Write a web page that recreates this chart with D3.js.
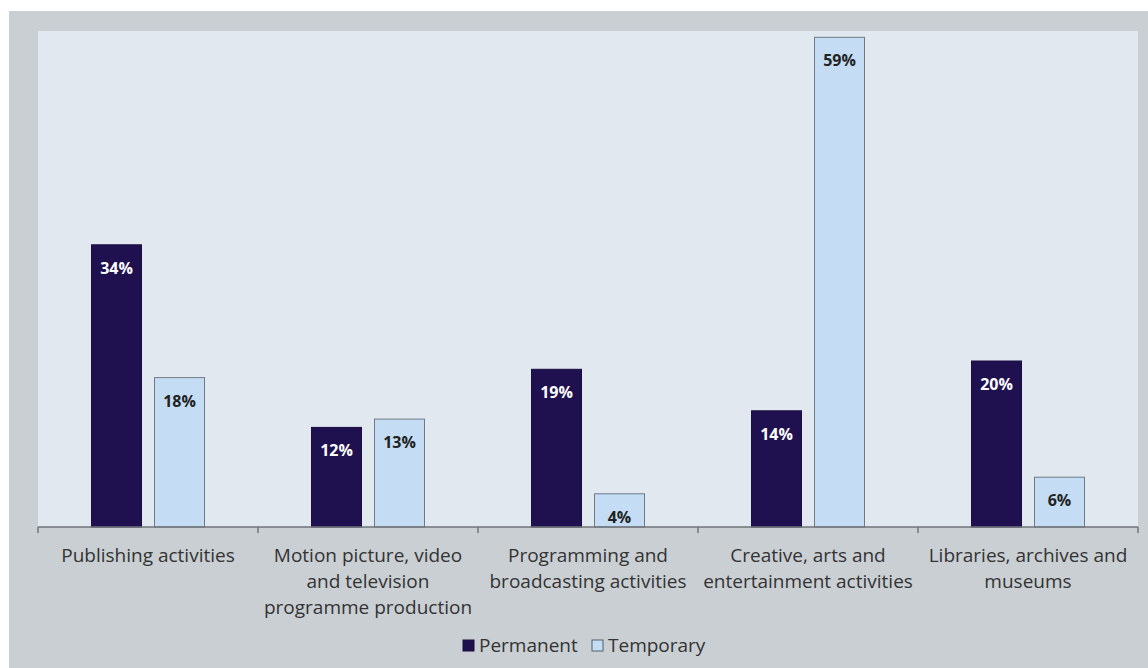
<!DOCTYPE html>
<html>
<head>
<meta charset="utf-8">
<script src="https://cdn.jsdelivr.net/npm/d3@7"></script>
<style>
  html, body { margin: 0; padding: 0; background: #ffffff; }
  svg { display: block; }
  text { font-family: "Open Sans", "Noto Sans", sans-serif; }
</style>
</head>
<body>
<svg id="chart" width="1148" height="668"></svg>
<script>
// Sector categories (multi-line axis labels)
const categories = [
  ["Publishing activities"],
  ["Motion picture, video", "and television", "programme production"],
  ["Programming and", "broadcasting activities"],
  ["Creative, arts and", "entertainment activities"],
  ["Libraries, archives and", "museums"]
];
const seriesNames = ["Permanent", "Temporary"];
const permanent = [34, 12, 19, 14, 20];
const temporary = [18, 13, 4, 59, 6];

const W = 1148, H = 668;
const svg = d3.select("#chart");

// backgrounds
svg.append("rect").attr("x", 9).attr("y", 11).attr("width", W - 9).attr("height", H - 11)
  .attr("fill", "#cacfd3");

const plot = { left: 38, right: 1138, top: 31, bottom: 527 };
svg.append("rect").attr("x", plot.left).attr("y", plot.top)
  .attr("width", plot.right - plot.left).attr("height", plot.bottom - plot.top)
  .attr("fill", "#e1e8f0");

const keys = categories.map((c, i) => i);
const x = d3.scaleBand().domain(keys).range([plot.left, plot.right]).padding(0);
const y = d3.scaleLinear().domain([0, 60]).range([plot.bottom, 29]);

const barW = 50, gap = 13;
const colors = { Permanent: "#1f1150", Temporary: "#c4ddf4" };

const rows = keys.map(i => ({
  i,
  vals: [
    { key: seriesNames[0], v: permanent[i] },
    { key: seriesNames[1], v: temporary[i] }
  ]
}));

const g = svg.append("g");
rows.forEach(r => {
  const cx = x(r.i) + x.bandwidth() / 2;
  r.vals.forEach((d, j) => {
    const bx = j === 0 ? cx - gap / 2 - barW : cx + gap / 2;
    g.append("rect")
      .attr("x", bx).attr("y", y(d.v))
      .attr("width", barW).attr("height", y(0) - y(d.v))
      .attr("fill", colors[d.key])
      .attr("stroke", j === 0 ? "#1a0f40" : "#6f7a86")
      .attr("stroke-width", 1);
    g.append("text")
      .attr("x", bx + barW / 2).attr("y", y(d.v) + 29)
      .attr("text-anchor", "middle")
      .attr("font-size", 16).attr("font-weight", 700)
      .attr("fill", j === 0 ? "#ffffff" : "#222222")
      .text(d.v + "%");
  });
});

// x axis with ticks at band boundaries
const axis = svg.append("g");
axis.append("line").attr("x1", plot.left).attr("x2", plot.right)
  .attr("y1", plot.bottom).attr("y2", plot.bottom)
  .attr("stroke", "#6f747a").attr("stroke-width", 1.5);
const edges = keys.map(i => x(i)).concat([plot.right]);
axis.selectAll("line.tick").data(edges).enter().append("line")
  .attr("class", "tick")
  .attr("x1", d => d).attr("x2", d => d)
  .attr("y1", plot.bottom).attr("y2", plot.bottom + 6)
  .attr("stroke", "#6f747a").attr("stroke-width", 1.5);

categories.forEach((lines, i) => {
  const t = axis.append("text")
    .attr("x", x(i) + x.bandwidth() / 2).attr("y", 562)
    .attr("text-anchor", "middle").attr("font-size", 19).attr("fill", "#333333");
  lines.forEach((ln, k) => {
    t.append("tspan").attr("x", x(i) + x.bandwidth() / 2)
      .attr("dy", k === 0 ? 0 : 26).text(ln);
  });
});

// legend
const legend = svg.append("g");
const legendPos = [
  { key: seriesNames[0], x: 463 },
  { key: seriesNames[1], x: 592 }
];
legendPos.forEach(l => {
  legend.append("rect").attr("x", l.x).attr("y", 640).attr("width", 11).attr("height", 11)
    .attr("fill", colors[l.key])
    .attr("stroke", l.key === "Permanent" ? "#1a0f40" : "#55606b").attr("stroke-width", 1);
  legend.append("text").attr("x", l.x + 16).attr("y", 652)
    .attr("font-size", 19).attr("fill", "#333333").text(l.key);
});
</script>
</body>
</html>
